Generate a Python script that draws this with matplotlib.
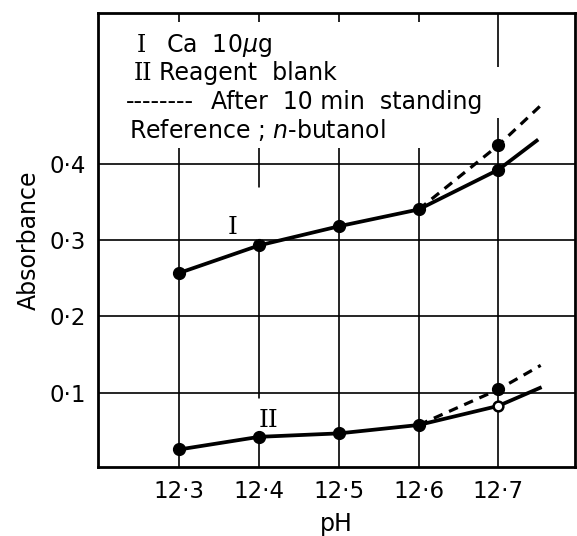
import matplotlib
matplotlib.use('Agg')
import matplotlib.pyplot as plt

# pH values and absorbance readings
ph = [12.3, 12.4, 12.5, 12.6, 12.7]
curve_1 = [0.257, 0.293, 0.318, 0.340, 0.392]
curve_1_standing = [0.340, 0.424]
curve_2 = [0.026, 0.0425, 0.047, 0.058, 0.083]
curve_2_standing = [0.058, 0.1045]

# extrapolated line ends beyond 12.7
end_1 = (12.748, 0.430)
end_1_standing = (12.752, 0.475)
end_2 = (12.752, 0.1065)
end_2_standing = (12.753, 0.136)

x_labels = ['12·3', '12·4', '12·5', '12·6', '12·7']
y_ticks = [0.1, 0.2, 0.3, 0.4]
y_labels = ['0·1', '0·2', '0·3', '0·4']

plt.rcParams['font.family'] = ['DejaVu Sans']
fig = plt.figure(figsize=(5.77, 5.36), dpi=100)
ax = fig.add_axes([0.170, 0.1287, 0.8265, 0.847])
ax.set_xlim(12.198, 12.796)
ax.set_ylim(0.003, 0.597)

# grid: horizontal lines full width, vertical lines broken around the texts
for y in y_ticks:
    ax.axhline(y, color='black', lw=1.2, zorder=1)
for x in ph[:4]:
    ax.vlines(x, 0, 0.42, color='black', lw=1.2, zorder=1)
    ax.vlines(x, 0.585, 0.6, color='black', lw=1.2, zorder=1)
ax.vlines(12.7, 0, 0.459, color='black', lw=1.2, zorder=1)
ax.vlines(12.7, 0.527, 0.6, color='black', lw=1.2, zorder=1)
# gaps drawn in the 12.4 line next to the curve labels
ax.vlines(12.4, 0.296, 0.37, color='white', lw=2.5, zorder=1.5)
ax.vlines(12.4, 0.045, 0.093, color='white', lw=2.5, zorder=1.5)

# series I
ax.plot(ph[3:] + [end_1_standing[0]], curve_1_standing + [end_1_standing[1]],
        color='black', lw=2.3, ls=(0, (3, 2.2)), zorder=2)
ax.plot(ph + [end_1[0]], curve_1 + [end_1[1]], color='black', lw=2.7, zorder=3)
ax.plot(ph, curve_1, 'o', color='black', ms=8.5, zorder=4)
ax.plot(ph[4], curve_1_standing[1], 'o', color='black', ms=8.5, zorder=4)

# series II
ax.plot(ph[3:] + [end_2_standing[0]], curve_2_standing + [end_2_standing[1]],
        color='black', lw=2.3, ls=(0, (3, 2.2)), zorder=2)
ax.plot(ph + [end_2[0]], curve_2 + [end_2[1]], color='black', lw=2.7, zorder=3)
ax.plot(ph[:4], curve_2[:4], 'o', color='black', ms=8.5, zorder=4)
ax.plot(ph[4], curve_2[4], 'o', mfc='white', mec='black', mew=1.8, ms=7, zorder=4)
ax.plot(ph[4], curve_2_standing[1], 'o', color='black', ms=8.5, zorder=4)

ax.text(12.366, 0.317, 'I', family='DejaVu Serif', fontsize=18, ha='center', va='center')
ax.text(12.412, 0.064, 'II', family='DejaVu Serif', fontsize=18, ha='center', va='center')

# key written inside the plot
ax.text(12.247, 0.555, 'I', family='DejaVu Serif', fontsize=17, va='center')
ax.text(12.283, 0.555, r'Ca  10$\mu$g', fontsize=17, va='center')
ax.text(12.243, 0.518, 'II', family='DejaVu Serif', fontsize=17, va='center')
ax.text(12.275, 0.518, 'Reagent  blank', fontsize=17, va='center')
ax.text(12.233, 0.481, '--------', fontsize=17, va='center')
ax.text(12.340, 0.481, 'After  10 min  standing', fontsize=17, va='center')
ax.text(12.237, 0.444, r'Reference ; $n$-butanol', fontsize=17, va='center')

ax.set_xticks(ph)
ax.set_xticklabels(x_labels)
ax.set_yticks(y_ticks)
ax.set_yticklabels(y_labels)
ax.tick_params(length=0, labelsize=16.5, pad=9)
ax.set_xlabel('pH', fontsize=17, labelpad=7)
ax.set_ylabel('Absorbance', fontsize=17, labelpad=6)
for s in ax.spines.values():
    s.set_linewidth(2.0)

fig.savefig('out.png', dpi=100)
